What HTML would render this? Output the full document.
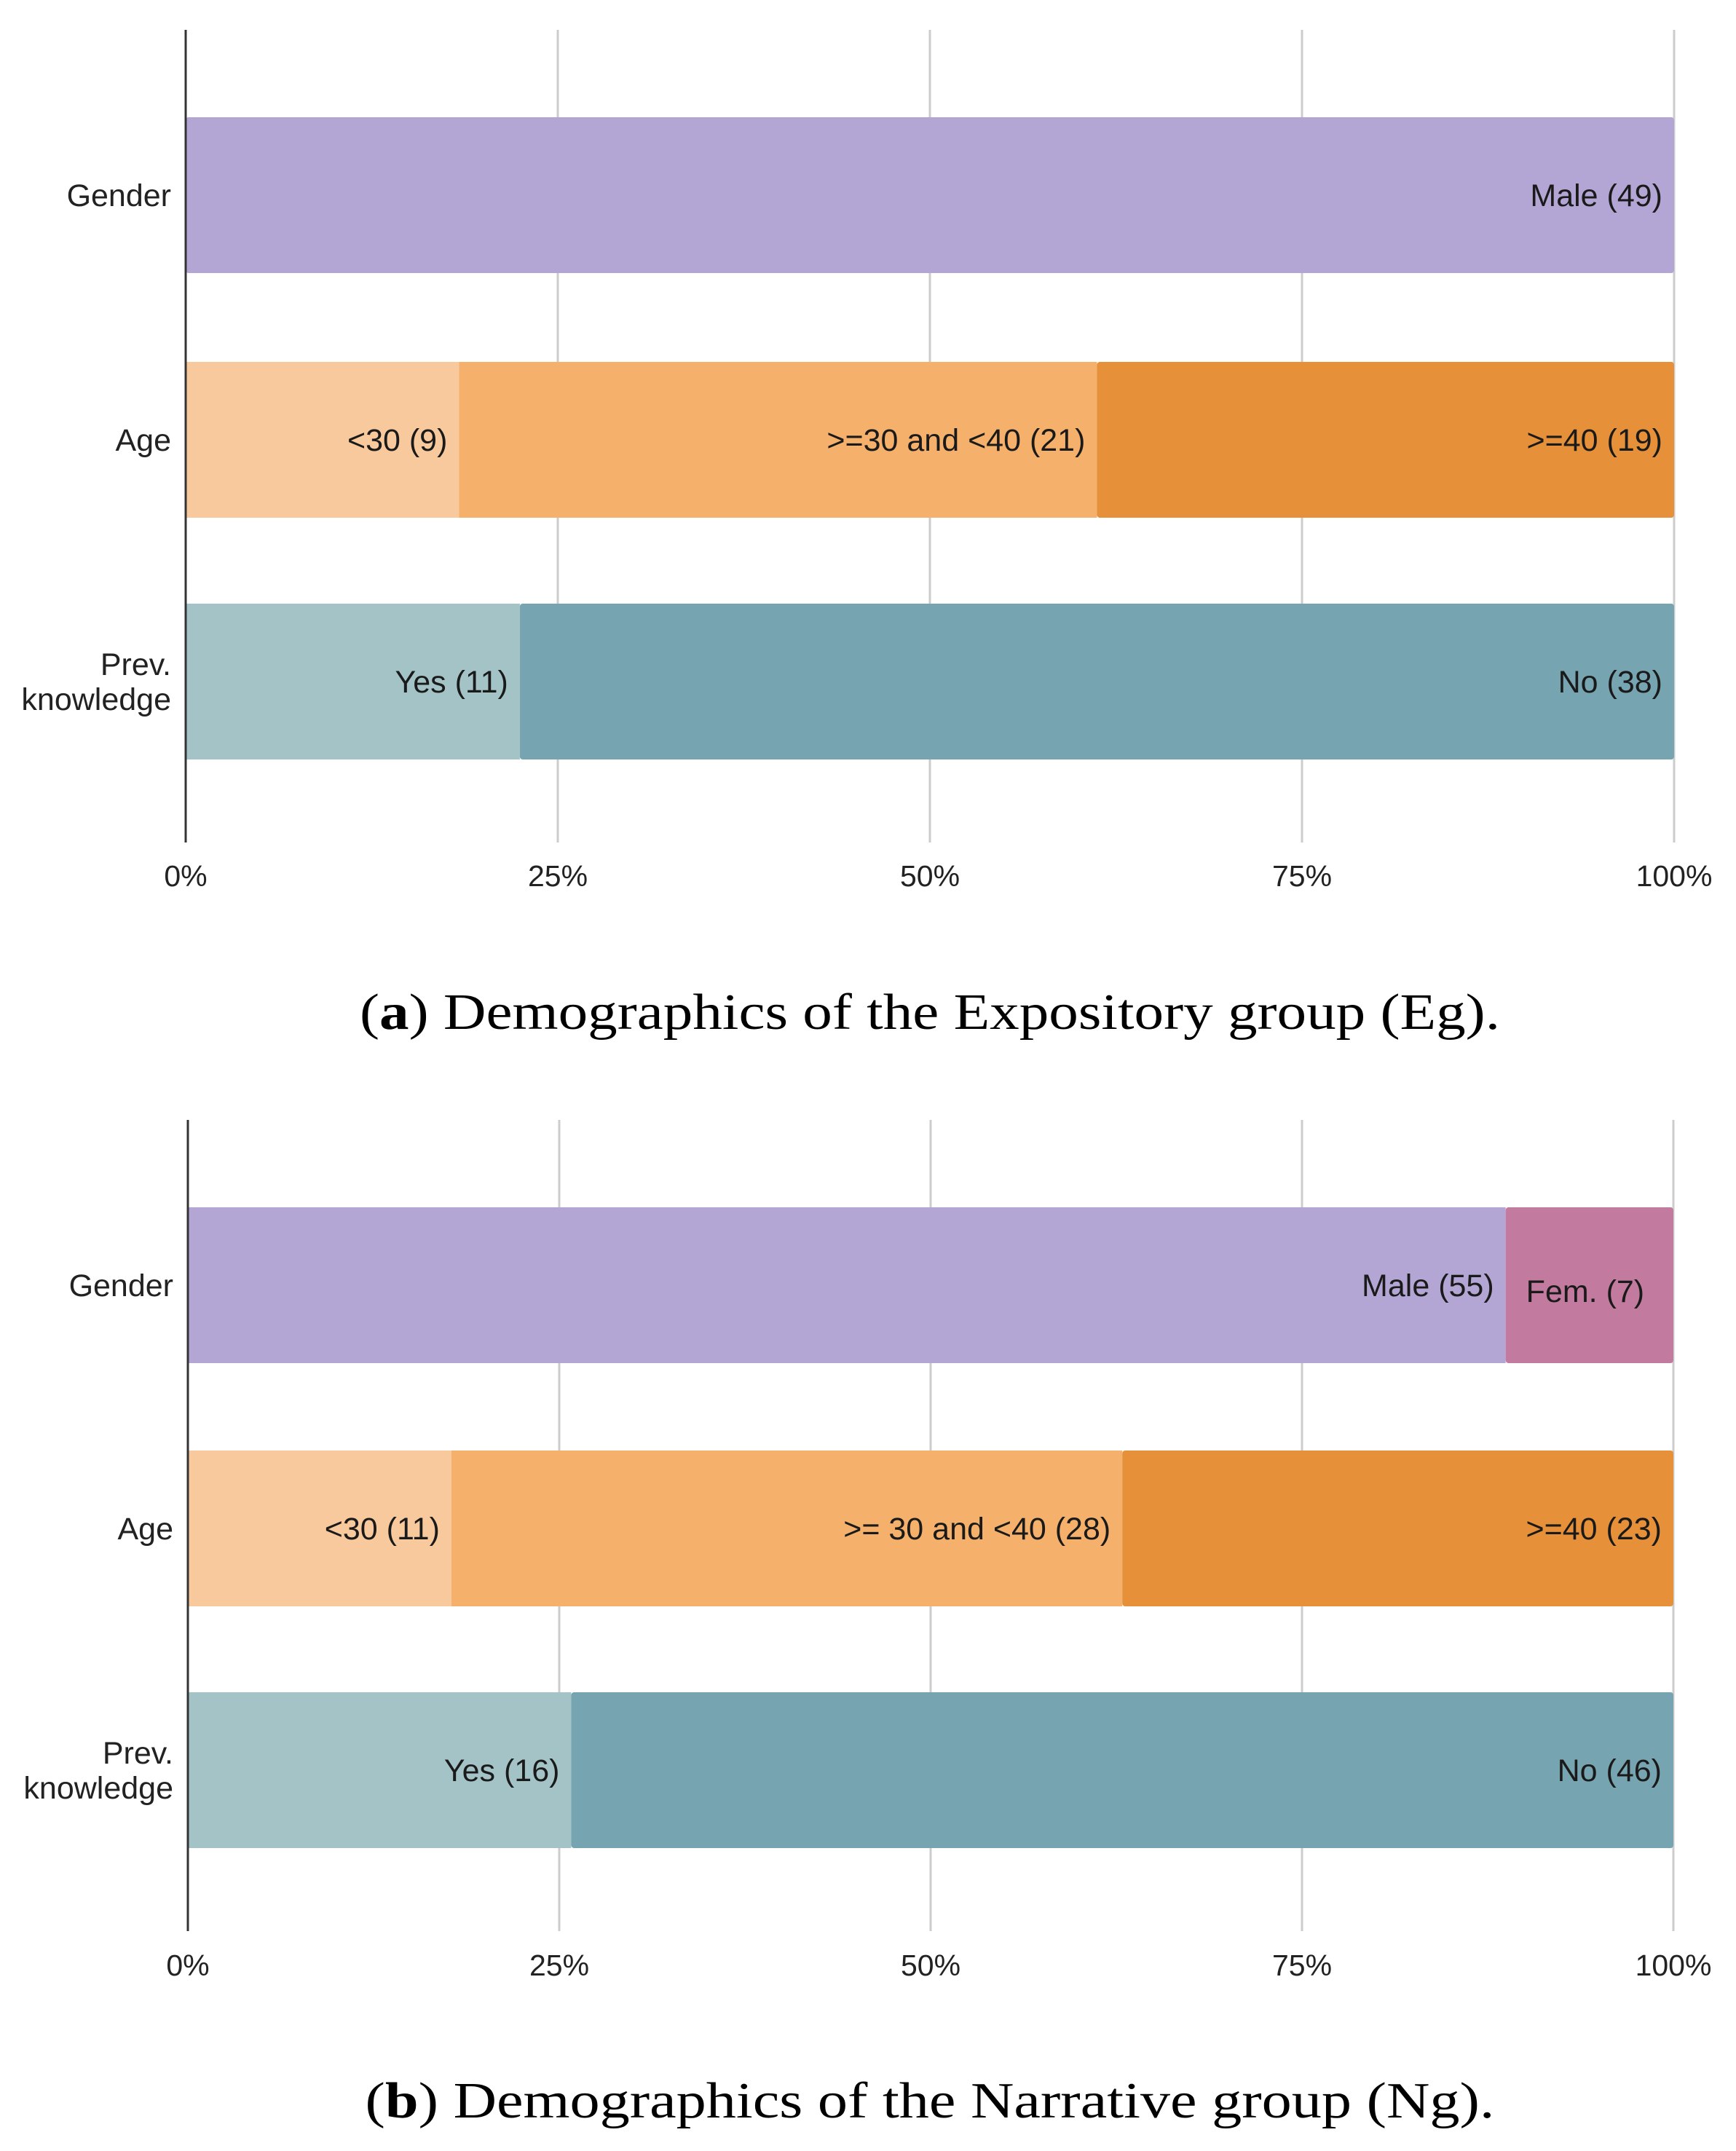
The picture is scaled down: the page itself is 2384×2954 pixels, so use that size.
<!DOCTYPE html>
<html><head><meta charset="utf-8"><style>
html,body{margin:0;padding:0;background:#fff}
svg{display:block}
</style></head><body>
<svg id="chart" width="2384" height="2954" viewBox="0 0 2384 2954" xmlns="http://www.w3.org/2000/svg"></svg>
<script>
const categories = ["Gender", "Age", "Prev.|knowledge"];
const ticks = [0, 25, 50, 75, 100];
const tickLabels = ["0%", "25%", "50%", "75%", "100%"];
// Panel a (Expository group)
const aGender = [49];
const aGenderLabels = ["Male (49)"];
const aAge = [9, 21, 19];
const aAgeLabels = ["<30 (9)", ">=30 and <40 (21)", ">=40 (19)"];
const aPrev = [11, 38];
const aPrevLabels = ["Yes (11)", "No (38)"];
// Panel b (Narrative group)
const bGender = [55, 7];
const bGenderLabels = ["Male (55)", "Fem. (7)"];
const bAge = [11, 28, 23];
const bAgeLabels = ["<30 (11)", ">= 30 and <40 (28)", ">=40 (23)"];
const bPrev = [16, 46];
const bPrevLabels = ["Yes (16)", "No (46)"];

const NS = "http://www.w3.org/2000/svg";
const svg = document.getElementById('chart');
const colors = [["#b3a6d4", "#c27a9e"], ["#f8c99c", "#f5b06b", "#e69039"], ["#a3c3c7", "#76a4b0"]];

function mk(tag, attrs, parent) {
  const e = document.createElementNS(NS, tag);
  for (const k in attrs) e.setAttribute(k, attrs[k]);
  (parent || svg).appendChild(e);
  return e;
}

function panel(p) {
  const g = mk('g', {});
  
  
  const x = v => p.x0 + (p.x1 - p.x0) * v / 100;
  ticks.forEach((t, i) => {
    if (t === 0) return;
    const l = mk('line', {x1: x(t), x2: x(t), y1: p.top, y2: p.bottom, stroke: '#cccccc', 'stroke-width': 3}, g);
    
    
  });
  ticks.forEach((t, i) => {
    const tx = mk('text', {x: x(t), y: p.tickY, 'text-anchor': 'middle', 'font-family': 'Liberation Sans, sans-serif', 'font-size': 41, fill: '#222'}, g);
    tx.textContent = tickLabels[i];
    
    
  });
  p.rows.forEach((row, r) => {
    const total = row.vals.reduce((a, b) => a + b, 0);
    let cum = 0;
    const yT = p.barTops[r], h = p.barH;
    row.vals.forEach((v, i) => {
      const xs = x(cum / total * 100), xe = x((cum + v) / total * 100);
      const last = i === row.vals.length - 1;
      const rc = mk('rect', {x: xs, y: yT, width: xe - xs + (last ? 0 : 0), height: h, fill: colors[r][i], rx: last ? 4 : 0}, g);
      
      
      const startAnchor = row.key === 'gender' && i === 1;
      const t = mk('text', {x: startAnchor ? xs + 28 : xe - 16, y: yT + h / 2 + 15 + (startAnchor ? 8 : 0), 'text-anchor': startAnchor ? 'start' : 'end', 'font-family': 'Liberation Sans, sans-serif', 'font-size': 43, fill: '#1a1a1a'}, g);
      t.textContent = row.labels[i];
      
      
      cum += v;
    });
    const parts = categories[r].split('|');
    const cy = yT + h / 2;
    parts.forEach((s, k) => {
      const t = mk('text', {x: p.x0 - 20, y: cy + 15 + (k - (parts.length - 1) / 2) * 48, 'text-anchor': 'end', 'font-family': 'Liberation Sans, sans-serif', 'font-size': 43, fill: '#222'}, g);
      t.textContent = s;
      
      
    });
  });
  const ax = mk('line', {x1: p.x0, x2: p.x0, y1: p.top, y2: p.bottom, stroke: '#333', 'stroke-width': 3}, g);
  
  
  const cap = mk('text', {x: 1277, y: p.capY, 'text-anchor': 'middle', 'font-family': 'Liberation Serif, serif', 'font-size': 70, fill: '#000', textLength: p.capW, lengthAdjust: 'spacingAndGlyphs'}, g);
  
  
  const t1 = mk('tspan', {}, cap); t1.textContent = '(';
  const t2 = mk('tspan', {'font-weight': 'bold'}, cap); t2.textContent = p.id;
  const t3 = mk('tspan', {}, cap); t3.textContent = ') ' + p.caption;
}

panel({id: 'a', x0: 255, x1: 2299, top: 41, bottom: 1157, tickY: 1217, barTops: [161, 497, 829], barH: 214,
  rows: [{key: 'gender', vals: aGender, labels: aGenderLabels}, {key: 'age', vals: aAge, labels: aAgeLabels}, {key: 'prev', vals: aPrev, labels: aPrevLabels}],
  capY: 1413, capW: 1566, caption: 'Demographics of the Expository group (Eg).'});
panel({id: 'b', x0: 258, x1: 2298, top: 1538, bottom: 2652, tickY: 2713, barTops: [1658, 1992, 2324], barH: 214,
  rows: [{key: 'gender', vals: bGender, labels: bGenderLabels}, {key: 'age', vals: bAge, labels: bAgeLabels}, {key: 'prev', vals: bPrev, labels: bPrevLabels}],
  capY: 2908, capW: 1551, caption: 'Demographics of the Narrative group (Ng).'});
</script>
</body></html>
